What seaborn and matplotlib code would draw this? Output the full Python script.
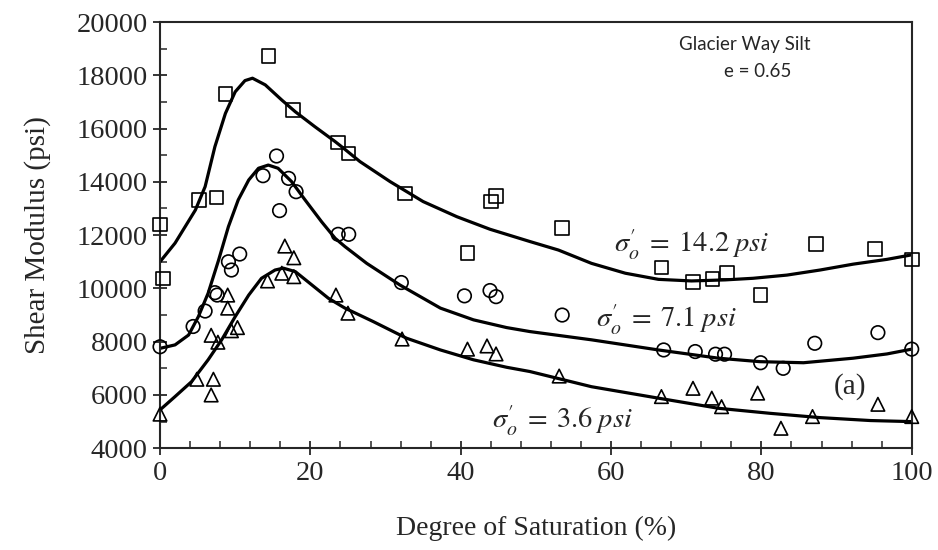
import numpy as np
import matplotlib
matplotlib.use('Agg')
import matplotlib.pyplot as plt
from matplotlib.ticker import MultipleLocator
import seaborn as sns

# measured points - sigma'o = 14.2 psi (squares)
sq_x = [0, 0.4, 5.2, 7.5, 8.7, 14.4, 17.7, 23.7, 25.1, 32.6, 40.9, 44.0, 44.7, 53.5,
        66.7, 70.9, 73.5, 75.4, 79.9, 87.3, 95.1, 100]
sq_y = [12400, 10380, 13320, 13420, 17290, 18720, 16700, 15470, 15070, 13570, 11320, 13260,
        13470, 12260, 10780, 10250, 10360, 10590, 9750, 11660, 11480, 11090]

# measured points - sigma'o = 7.1 psi (circles)
ci_x = [0, 4.4, 6.0, 7.3, 7.6, 9.1, 9.5, 10.6, 13.7, 15.5, 15.9, 17.1, 18.1, 23.7, 25.1,
        32.1, 40.5, 43.9, 44.7, 53.5, 67.0, 71.2, 73.9, 75.1, 79.9, 82.9, 87.1, 95.5, 100]
ci_y = [7810, 8570, 9150, 9840, 9750, 11000, 10690, 11290, 14230, 14970, 12920, 14130, 13630,
        12030, 12030, 10220, 9720, 9920, 9690, 9000, 7690, 7630, 7530, 7530, 7210, 7000,
        7940, 8340, 7720]

# measured points - sigma'o = 3.6 psi (triangles)
tr_x = [0, 4.9, 6.8, 7.1, 6.8, 7.7, 9.0, 9.0, 9.5, 10.3, 14.3, 16.2, 16.6, 17.8, 17.8,
        23.4, 25.0, 32.2, 40.9, 43.5, 44.7, 53.1, 66.7, 70.9, 73.4, 74.7, 79.5, 82.6, 86.8,
        95.5, 100]
tr_y = [5280, 6590, 6000, 6590, 8240, 7980, 9750, 9260, 8410, 8530, 10280, 10570, 11590,
        11150, 10440, 9750, 9070, 8100, 7720, 7840, 7540, 6710, 5940, 6250, 5880, 5560,
        6070, 4750, 5190, 5650, 5190]

# fitted curves
fit_hi_x = [0, 2.0, 4.7, 6.0, 7.3, 8.7, 10.0, 11.3, 12.3, 14.0, 16.2, 18.0, 20.6, 23.3, 24.6,
            26.6, 30.6, 35.0, 39.5, 43.9, 49.2, 53.0, 57.4, 61.9, 66.3, 70.7, 75.2, 78.9,
            83.4, 87.8, 92.2, 96.7, 100]
fit_hi_y = [11000, 11700, 12940, 13820, 15320, 16570, 17380, 17800, 17890, 17640, 17070,
            16630, 16070, 15510, 15220, 14760, 14010, 13260, 12690, 12220, 11760, 11440,
            10940, 10570, 10340, 10280, 10320, 10380, 10500, 10690, 10910, 11090, 11260]

fit_mid_x = [0, 2.0, 3.8, 5.1, 6.4, 7.8, 9.1, 10.4, 11.8, 13.1, 14.4, 15.7, 17.5, 19.3, 21.5,
             23.3, 24.6, 27.5, 31.9, 37.3, 41.7, 46.1, 49.2, 57.4, 66.3, 74.3, 79.8, 85.6,
             92.2, 96.7, 100]
fit_mid_y = [7750, 7880, 8250, 8940, 9820, 11070, 12320, 13320, 14070, 14510, 14630, 14510,
             14010, 13320, 12500, 11880, 11570, 10940, 10130, 9260, 8820, 8530, 8380, 8070,
             7690, 7380, 7250, 7210, 7380, 7540, 7720]

fit_lo_x = [0, 2.0, 4.2, 6.4, 8.2, 10.0, 11.8, 13.5, 15.3, 16.4, 18.0, 20.2, 22.4, 24.6,
            28.4, 32.8, 37.3, 41.7, 46.1, 49.2, 57.4, 66.3, 74.3, 81.2, 87.8, 94.5, 100]
fit_lo_y = [5440, 5940, 6500, 7320, 8070, 8940, 9750, 10380, 10690, 10760, 10630, 10130,
            9630, 9260, 8750, 8130, 7690, 7320, 7040, 6880, 6310, 5880, 5500, 5310, 5150,
            5040, 5000]

sns.set_style('ticks')
plt.rcParams['font.family'] = ['Liberation Serif', 'DejaVu Serif']
plt.rcParams['mathtext.fontset'] = 'stix'

fig, ax = plt.subplots(figsize=(9.38, 5.5), dpi=100)
fig.subplots_adjust(left=0.1706, right=0.972, top=0.96, bottom=0.185)

for fx, fy in [(fit_hi_x, fit_hi_y), (fit_mid_x, fit_mid_y), (fit_lo_x, fit_lo_y)]:
    sns.lineplot(x=fx, y=fy, ax=ax, sort=False, estimator=None, color='black',
                 linewidth=2.3, solid_joinstyle='round', zorder=2)

for px, py, mk in [(sq_x, sq_y, 's'), (ci_x, ci_y, 'o'), (tr_x, tr_y, '^')]:
    sns.scatterplot(x=px, y=py, ax=ax, marker=mk, s=95, facecolor='none',
                    edgecolor='black', linewidth=1.2, zorder=3, clip_on=False)

ax.set_xlim(0, 100)
ax.set_ylim(4000, 20000)
ax.xaxis.set_major_locator(MultipleLocator(20))
ax.xaxis.set_minor_locator(MultipleLocator(4))
ax.yaxis.set_major_locator(MultipleLocator(2000))
ax.yaxis.set_minor_locator(MultipleLocator(1000))
ax.tick_params(which='major', direction='inout', length=10, width=1.3, labelsize=20.5, pad=4)
ax.tick_params(which='minor', direction='in', length=5, width=1.1)
for sp in ax.spines.values():
    sp.set_linewidth(1.5)

ax.set_xlabel('Degree of Saturation (%)', fontsize=20, labelpad=22)
ax.set_ylabel('Shear Modulus (psi)', fontsize=21, labelpad=18)

ax.text(60.4, 11630, r"$\sigma_o' \;=\; 14.2\;psi$", fontsize=20.5, va='center', ha='left')
ax.text(58.0, 8820, r"$\sigma_o' \;=\; 7.1\;psi$", fontsize=20.5, va='center', ha='left')
ax.text(44.1, 5030, r"$\sigma_o' \;=\; 3.6\;psi$", fontsize=20.5, va='center', ha='left')
ax.text(91.8, 6320, '(a)', fontsize=21, va='center', ha='center')
ax.text(77.8, 19150, 'Glacier Way Silt', fontsize=13.5, family='Lato', ha='center', va='center')
ax.text(79.5, 18150, 'e = 0.65', fontsize=13.5, family='Lato', ha='center', va='center')

fig.savefig('out.png', dpi=100)
